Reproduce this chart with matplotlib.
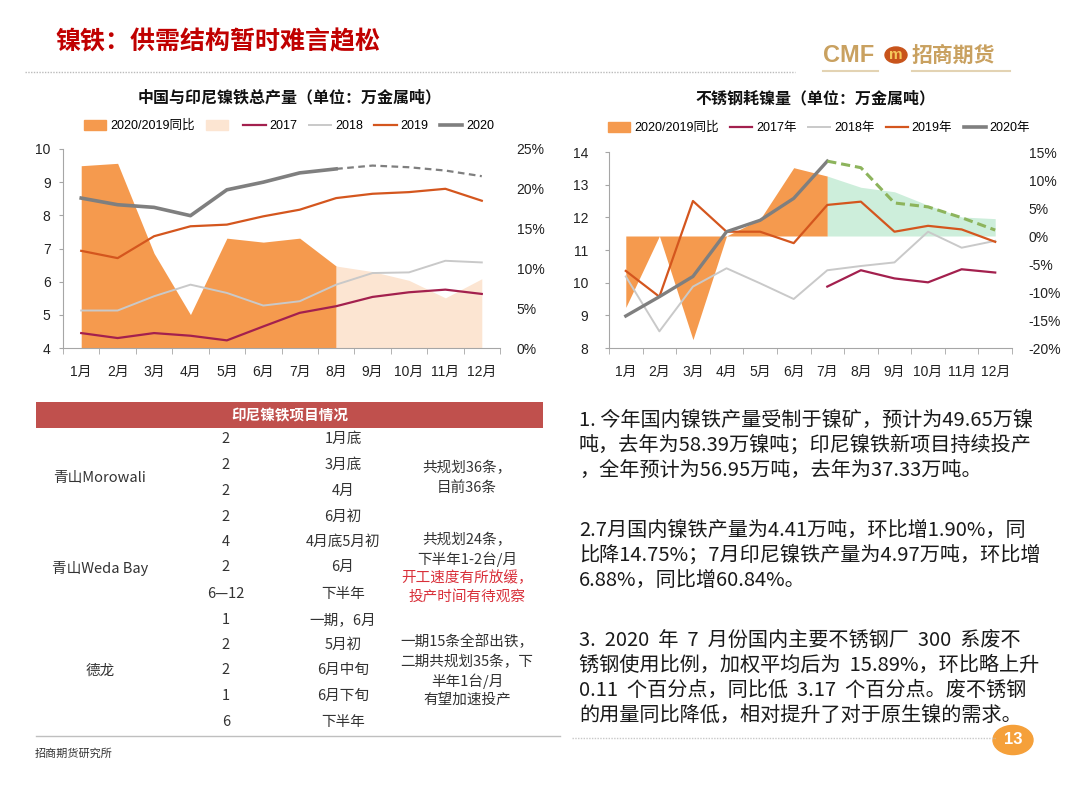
import matplotlib
matplotlib.use('Agg')
import matplotlib.pyplot as plt
from matplotlib.patches import Patch, Circle, Rectangle
from matplotlib.lines import Line2D
from matplotlib.ticker import FuncFormatter, FixedLocator

plt.rcParams['font.family'] = ['Liberation Sans', 'Noto Sans CJK SC', 'DejaVu Sans']
CJK = ['Noto Sans CJK SC', 'DejaVu Sans']

W, H = 1080, 786

# ---------------- data ----------------
months = ['1月', '2月', '3月', '4月', '5月', '6月', '7月', '8月', '9月', '10月', '11月', '12月']

# Left chart: China + Indonesia NPI output (10k t metal)
left_yoy_actual = [22.9, 23.2, 11.9, 4.2, 13.8, 13.3, 13.8, 10.3]      # Jan-Aug, %
left_yoy_forecast = [10.3, 9.6, 8.5, 6.3, 8.7]                          # Aug-Dec, %
left_2017 = [4.45, 4.30, 4.45, 4.37, 4.23, 4.65, 5.06, 5.26, 5.54, 5.68, 5.76, 5.63]
left_2018 = [5.13, 5.13, 5.56, 5.91, 5.66, 5.28, 5.41, 5.91, 6.26, 6.28, 6.63, 6.58]
left_2019 = [6.93, 6.71, 7.37, 7.67, 7.72, 7.97, 8.17, 8.52, 8.65, 8.70, 8.80, 8.44]
left_2020 = [8.52, 8.32, 8.24, 7.99, 8.77, 9.00, 9.28, 9.40]
left_2020_forecast = [9.40, 9.50, 9.45, 9.35, 9.18]

# Right chart: stainless steel nickel consumption (10k t metal)
right_yoy_actual = [-12.75, 0.0, -18.5, 0.0, 3.0, 12.2, 10.7]         # Jan-Jul, %
right_yoy_forecast = [10.7, 8.7, 7.9, 5.5, 3.4, 3.1]                   # Jul-Dec, %
right_2017 = [9.88, 10.38, 10.13, 10.01, 10.41, 10.31]                 # Jul-Dec
right_2018 = [10.19, 8.51, 9.88, 10.44, 9.98, 9.50, 10.38, 10.51, 10.62, 11.56, 11.07, 11.28]
right_2019 = [10.36, 9.57, 12.50, 11.56, 11.56, 11.21, 12.38, 12.48, 11.56, 11.74, 11.63, 11.25]
right_2020 = [8.98, 9.57, 10.19, 11.56, 11.91, 12.58, 13.72]
right_2020_forecast = [13.72, 13.52, 12.44, 12.32, 11.99, 11.61]

left_legend = ['2020/2019同比', '', '2017', '2018', '2019', '2020']
right_legend = ['2020/2019同比', '2017年', '2018年', '2019年', '2020年']

table_header = '印尼镍铁项目情况'
table_qty = ['2', '2', '2', '2', '4', '2', '6—12', '1', '2', '2', '1', '6']
table_time = ['1月底', '3月底', '4月', '6月初', '4月底5月初', '6月', '下半年',
              '一期，6月', '5月初', '6月中旬', '6月下旬', '下半年']
table_groups = ['青山Morowali', '青山Weda Bay', '德龙']

para1 = ['1. 今年国内镍铁产量受制于镍矿，预计为49.65万镍',
         '吨，去年为58.39万镍吨；印尼镍铁新项目持续投产',
         '，全年预计为56.95万吨，去年为37.33万吨。']
para2 = ['2.7月国内镍铁产量为4.41万吨，环比增1.90%，同',
         '比降14.75%；7月印尼镍铁产量为4.97万吨，环比增',
         '6.88%，同比增60.84%。']
para3 = ['3.  2020  年  7  月份国内主要不锈钢厂  300  系废不',
         '锈钢使用比例，加权平均后为  15.89%，环比略上升',
         '0.11  个百分点，同比低  3.17  个百分点。废不锈钢',
         '的用量同比降低，相对提升了对于原生镍的需求。']

# ---------------- colours ----------------
C_ORANGE = '#F59A4E'
C_PEACH = '#FCE5D2'
C_GREEN = '#CDEEDB'
C_GREEN_D = '#8DB45C'
C_2017 = '#A3204E'
C_2018 = '#C9C9C9'
C_2019 = '#D4561E'
C_2020 = '#7F7F7F'
C_AX = '#A6A6A6'

fig = plt.figure(figsize=(W / 100, H / 100), dpi=100)
fig.patch.set_facecolor('white')


def fx(x):
    return x / W


def fy(y):
    return 1 - y / H


def axes_px(l, t, r, b):
    return fig.add_axes([fx(l), fy(b), fx(r - l), (b - t) / H])


def style_axes(ax, ax2, ypad_l, ypad_r):
    for s in ['top', 'right']:
        ax.spines[s].set_visible(False)
        ax2.spines[s].set_visible(False)
    ax2.spines['left'].set_visible(False)
    ax2.spines['bottom'].set_visible(False)
    ax.spines['left'].set_color(C_AX)
    ax.spines['bottom'].set_color(C_AX)
    ax.set_xlim(-0.5, 11.5)
    ax.set_xticks(range(12))
    ax.set_xticklabels(months, fontsize=10, color='#222222')
    ax.xaxis.set_minor_locator(FixedLocator([i - 0.5 for i in range(13)]))
    ax.tick_params(axis='x', which='major', length=0, pad=12)
    ax.tick_params(axis='x', which='minor', length=4, color=C_AX)
    ax.tick_params(axis='y', length=3, color=C_AX, labelsize=10, pad=ypad_l, labelcolor='#222222')
    ax2.tick_params(axis='y', length=0, labelsize=10, pad=ypad_r, labelcolor='#222222')
    ax2.yaxis.set_major_formatter(FuncFormatter(lambda v, p: f'{v:.0f}%'))
    ax.set_zorder(ax2.get_zorder() + 1)
    ax.patch.set_visible(False)


# ---------------- left chart ----------------
axL = axes_px(63, 149, 500, 348)
axL2 = axL.twinx()
xa = list(range(8))
xf = list(range(7, 12))
axL2.fill_between(xa, 0, left_yoy_actual, color=C_ORANGE, lw=0)
axL2.fill_between(xf, 0, left_yoy_forecast, color=C_PEACH, lw=0)
axL2.set_ylim(0, 25)
axL2.set_yticks([0, 5, 10, 15, 20, 25])
x12 = list(range(12))
axL.plot(x12, left_2017, color=C_2017, lw=1.6)
axL.plot(x12, left_2018, color=C_2018, lw=1.4)
axL.plot(x12, left_2019, color=C_2019, lw=1.6)
axL.plot(xa, left_2020, color=C_2020, lw=2.6)
axL.plot(xf, left_2020_forecast, color=C_2020, lw=1.6, ls=(0, (3, 2)))
axL.set_ylim(4, 10)
axL.set_yticks(range(4, 11))
style_axes(axL, axL2, 6, 12)

fig.text(fx(290), fy(97), '中国与印尼镍铁总产量（单位：万金属吨）', ha='center', va='center',
         fontsize=11.5, fontweight='bold', family=CJK, color='#111111')
hL = [Patch(color=C_ORANGE), Patch(color=C_PEACH),
      Line2D([], [], color=C_2017, lw=1.6), Line2D([], [], color=C_2018, lw=1.4),
      Line2D([], [], color=C_2019, lw=1.6), Line2D([], [], color=C_2020, lw=2.6)]
fig.legend(hL, left_legend, loc='center', bbox_to_anchor=(fx(289), fy(126)), ncol=6,
           frameon=False, handlelength=1.8, handleheight=0.8, columnspacing=0.9,
           handletextpad=0.3, prop={'family': ['Liberation Sans', 'Noto Sans CJK SC'], 'size': 9})

# ---------------- right chart ----------------
axR = axes_px(609, 152, 1012, 348)
axR2 = axR.twinx()
ra = list(range(7))
rf = list(range(6, 12))
axR2.fill_between(ra, 0, right_yoy_actual, color=C_ORANGE, lw=0)
axR2.fill_between(rf, 0, right_yoy_forecast, color=C_GREEN, lw=0)
axR2.set_ylim(-20, 15)
axR2.set_yticks([-20, -15, -10, -5, 0, 5, 10, 15])
axR.plot(list(range(6, 12)), right_2017, color=C_2017, lw=1.6)
axR.plot(x12, right_2018, color=C_2018, lw=1.4)
axR.plot(x12, right_2019, color=C_2019, lw=1.6)
axR.plot(ra, right_2020, color=C_2020, lw=2.4)
axR.plot(rf, right_2020_forecast, color=C_GREEN_D, lw=2.2, ls=(0, (3, 1.6)))
axR.set_ylim(8, 14)
axR.set_yticks(range(8, 15))
style_axes(axR, axR2, 12, 12)

fig.text(fx(815), fy(98), '不锈钢耗镍量（单位：万金属吨）', ha='center', va='center',
         fontsize=11.5, fontweight='bold', family=CJK, color='#111111')
hR = [Patch(color=C_ORANGE),
      Line2D([], [], color=C_2017, lw=1.6), Line2D([], [], color=C_2018, lw=1.4),
      Line2D([], [], color=C_2019, lw=1.6), Line2D([], [], color=C_2020, lw=2.6)]
fig.legend(hR, right_legend, loc='center', bbox_to_anchor=(fx(819), fy(128)), ncol=5,
           frameon=False, handlelength=1.8, handleheight=0.8, columnspacing=0.9,
           handletextpad=0.3, prop={'family': ['Liberation Sans', 'Noto Sans CJK SC'], 'size': 9})

# ---------------- header ----------------
fig.text(fx(55), fy(42), '镍铁：供需结构暂时难言趋松', ha='left', va='center', fontsize=18,
         fontweight='bold', family=CJK, color='#C00000')
fig.add_artist(Line2D([fx(25), fx(795)], [fy(72), fy(72)], color='#BBBBBB', lw=1, ls=(0, (1, 1))))
fig.text(fx(823), fy(55), 'CMF', ha='left', va='center', fontsize=17, fontweight='bold',
         color='#C9A160', family=['Liberation Sans'])
fig.add_artist(Circle((fx(896), fy(55)), 11 / W, transform=fig.transFigure, color='#C8541B'))
fig.text(fx(896), fy(55), 'm', ha='center', va='center', fontsize=11, fontweight='bold', color='#F5C85A')
fig.text(fx(912), fy(55), '招商期货', ha='left', va='center', fontsize=15, fontweight='bold',
         color='#C9A160', family=CJK)
fig.add_artist(Line2D([fx(823), fx(878)], [fy(71), fy(71)], color='#E3D3B3', lw=1.5))
fig.add_artist(Line2D([fx(912), fx(1010)], [fy(71), fy(71)], color='#E3D3B3', lw=1.5))

# ---------------- table ----------------
fig.add_artist(Rectangle((fx(36), fy(428)), fx(543 - 36), 26 / H, transform=fig.transFigure,
                         color='#C0504D', lw=0))
fig.text(fx(290), fy(415), table_header, ha='center', va='center', fontsize=10.5,
         fontweight='bold', color='white', family=CJK)
row_y = [439, 465, 491, 517, 542, 567, 594, 620, 645, 670, 696, 722]
TC = '#333333'
for yy, q, t in zip(row_y, table_qty, table_time):
    fig.text(fx(226), fy(yy), q, ha='center', va='center', fontsize=10.5, color=TC, family=CJK)
    fig.text(fx(343), fy(yy), t, ha='center', va='center', fontsize=10.5, color=TC, family=CJK)
for g, yy in zip(table_groups, [478, 568, 671]):
    fig.text(fx(100), fy(yy), g, ha='center', va='center', fontsize=10.5, color=TC, family=CJK)
notes = [('共规划36条，', 468, TC), ('目前36条', 488, TC),
         ('共规划24条，', 540, TC), ('下半年1-2台/月', 559, TC),
         ('开工速度有所放缓，', 578, '#D9303A'), ('投产时间有待观察', 597, '#D9303A'),
         ('一期15条全部出铁，', 642, TC), ('二期共规划35条，下', 662, TC),
         ('半年1台/月', 681, TC), ('有望加速投产', 700, TC)]
for s, yy, c in notes:
    fig.text(fx(467), fy(yy), s, ha='center', va='center', fontsize=10.5, color=c, family=CJK)
fig.add_artist(Line2D([fx(36), fx(560)], [fy(736), fy(736)], color='#BFBFBF', lw=1))
fig.text(fx(35), fy(754), '招商期货研究所', ha='left', va='center', fontsize=8, color='#333333',
         family=CJK)

# ---------------- right text ----------------
for lines, y0 in [(para1, 420), (para2, 530), (para3, 640)]:
    for i, s in enumerate(lines):
        fig.text(fx(579), fy(y0 + 25 * i), s, ha='left', va='center', fontsize=14.5,
                 color='#1A1A1A', family=CJK)
fig.add_artist(Line2D([fx(572), fx(995)], [fy(738), fy(738)], color='#C8C8C8', lw=1, ls=(0, (1, 1))))
fig.add_artist(Circle((fx(1013), fy(740)), 20 / W, transform=fig.transFigure, color='#F5A03A'))
fig.text(fx(1013), fy(740), '13', ha='center', va='center', fontsize=12, fontweight='bold',
         color='white')

fig.savefig('out.png', dpi=100)
